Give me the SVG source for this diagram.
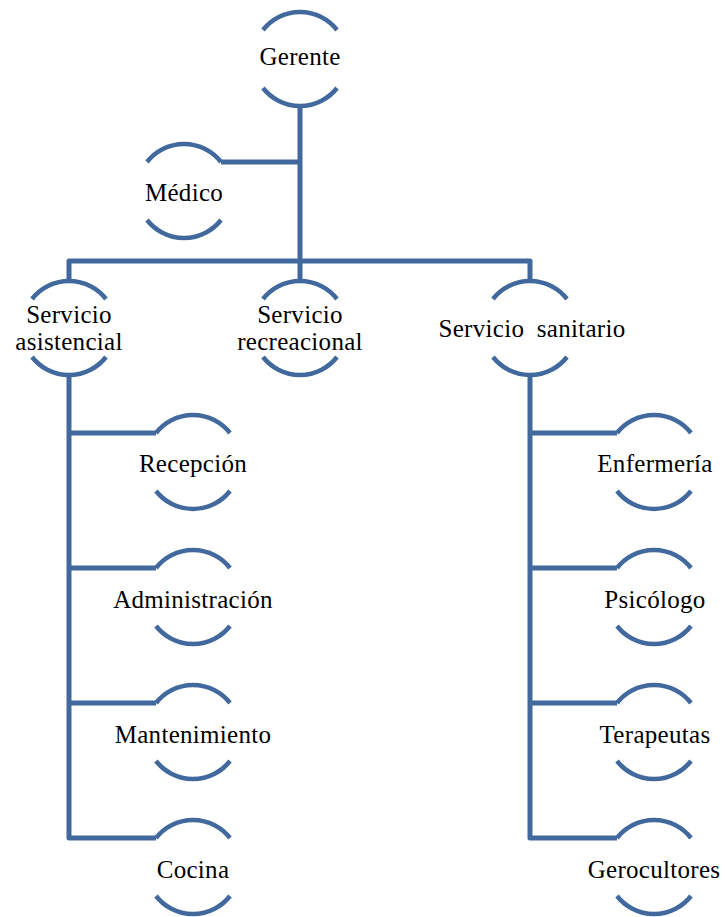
<svg xmlns="http://www.w3.org/2000/svg" xmlns:xlink="http://www.w3.org/1999/xlink" width="725" height="917" viewBox="0 0 725 917">
<style>
.arc{fill:none;stroke:#41699d;stroke-width:4.5}
.ln{fill:none;stroke:#41699d;stroke-width:5;stroke-linejoin:round}
text{font-family:"Liberation Serif","Times New Roman",serif;font-size:25px;fill:#000;text-anchor:middle;letter-spacing:0.3px}
</style>
<defs>
<path id="n" class="arc" d="M -37 -29 A 47 47 0 0 1 37 -29 M -37 29 A 47 47 0 0 0 37 29"/>
</defs>
<rect width="725" height="917" fill="#fff"/>
<g id="connectors">
<path class="ln" d="M300 106 V261"/>
<path class="ln" d="M221 162 H300"/>
<path class="ln" d="M69 281 V261 H530 V281"/>
<path class="ln" d="M300 261 V281"/>
<path class="ln" d="M69 375 V838 H156"/>
<path class="ln" d="M69 433 H156 M69 568 H156 M69 703 H156"/>
<path class="ln" d="M530 375 V838 H617"/>
<path class="ln" d="M530 433 H617 M530 568 H617 M530 703 H617"/>
</g>
<g id="gerente"><use xlink:href="#n" x="300" y="59"/><text x="300" y="65">Gerente</text></g>
<g id="medico"><use xlink:href="#n" x="184" y="191"/><text x="184" y="201">Médico</text></g>
<g id="servicio-asistencial"><use xlink:href="#n" x="69" y="328"/><text x="69" y="323">Servicio</text><text x="69" y="350">asistencial</text></g>
<g id="servicio-recreacional"><use xlink:href="#n" x="300" y="328"/><text x="300" y="323">Servicio</text><text x="300" y="350">recreacional</text></g>
<g id="servicio-sanitario"><use xlink:href="#n" x="530" y="328"/><text x="532" y="337" style="word-spacing:6px">Servicio sanitario</text></g>
<g id="recepcion"><use xlink:href="#n" x="193" y="462"/><text x="193" y="472">Recepción</text></g>
<g id="administracion"><use xlink:href="#n" x="193" y="597"/><text x="193" y="608">Administración</text></g>
<g id="mantenimiento"><use xlink:href="#n" x="193" y="732"/><text x="193" y="743">Mantenimiento</text></g>
<g id="cocina"><use xlink:href="#n" x="193" y="867"/><text x="193" y="878">Cocina</text></g>
<g id="enfermeria"><use xlink:href="#n" x="654" y="462"/><text x="655" y="472">Enfermería</text></g>
<g id="psicologo"><use xlink:href="#n" x="654" y="597"/><text x="655" y="608">Psicólogo</text></g>
<g id="terapeutas"><use xlink:href="#n" x="654" y="732"/><text x="655" y="743">Terapeutas</text></g>
<g id="gerocultores"><use xlink:href="#n" x="654" y="867"/><text x="654" y="878">Gerocultores</text></g>
</svg>
